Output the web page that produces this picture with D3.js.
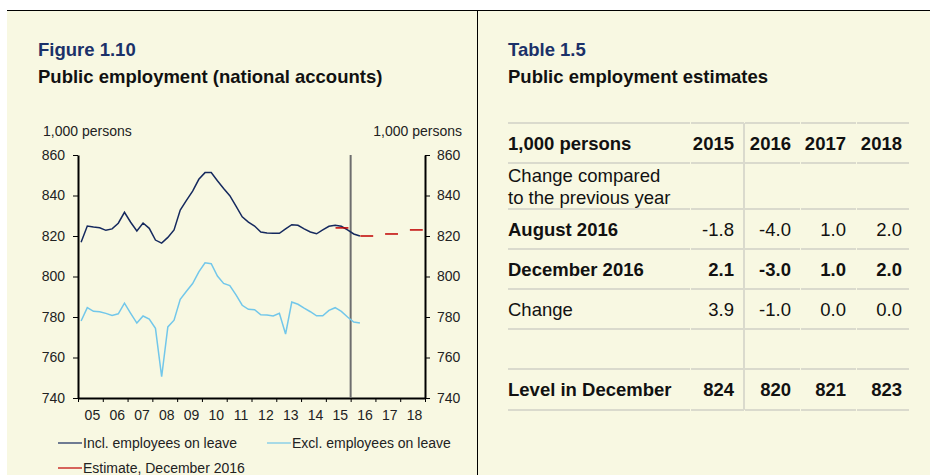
<!DOCTYPE html>
<html>
<head>
<meta charset="utf-8">
<script src="https://cdn.jsdelivr.net/npm/d3@7"></script>
<style>
body { margin: 0; background: #fff; }
svg { display: block; font-family: "Liberation Sans", Arial, sans-serif; }
</style>
</head>
<body>
<svg id="page" width="930" height="475"></svg>
<script>
// ---- data (quarterly, 2005Q1 - 2016Q2) ----
var firstYear = 2005;
var inclLeave = [816.9, 824.9, 824.4, 824.1, 822.8, 823.5, 826.3, 831.7, 826.8, 822.5,
                 826.4, 823.8, 818.0, 816.5, 819.3, 823.0, 832.8, 837.6, 842.2, 848.0,
                 851.3, 851.3, 847.3, 843.5, 839.9, 834.8, 829.5, 826.9, 824.9, 822.0,
                 821.5, 821.3, 821.3, 823.5, 825.6, 825.3, 823.5, 822.0, 821.1, 823.0,
                 824.8, 825.3, 824.8, 823.0, 821.0, 820.0];
var exclLeave = [778.0, 784.6, 782.8, 782.6, 781.8, 780.8, 781.6, 786.8, 781.8, 777.0,
                 780.5, 779.0, 774.4, 750.5, 775.1, 778.4, 788.7, 792.7, 796.5, 802.3,
                 806.8, 806.3, 800.2, 796.6, 795.5, 790.9, 785.8, 783.8, 783.6, 781.1,
                 781.0, 780.5, 781.8, 771.6, 787.4, 786.3, 784.4, 782.6, 780.6, 780.6,
                 783.3, 784.6, 782.8, 780.0, 777.5, 777.0];

// estimate (December 2016) = level in December, also used in the table
var tableYears = [2015, 2016, 2017, 2018];
var levelDecember = [824, 820, 821, 823];
var changeAug2016 = [-1.8, -4.0, 1.0, 2.0];
var changeDec2016 = [2.1, -3.0, 1.0, 2.0];
var changeDiff = [3.9, -1.0, 0.0, 0.0];

var yTicks = [740, 760, 780, 800, 820, 840, 860];
var xYears = d3.range(2005, 2019);
var splitYear = 2016;

var seriesInfo = [
    {name: 'Incl. employees on leave', values: inclLeave, color: '#15295e'},
    {name: 'Excl. employees on leave', values: exclLeave, color: '#72c7ea'}
];
var estimateInfo = {name: 'Estimate, December 2016', color: '#c00000'};

var cream = '#f8f8e2', navy = '#1b3169', rule = '#dadacd';

var svg = d3.select('#page');

// page frame
svg.append('rect').attr('x', 7).attr('y', 10).attr('width', 923).attr('height', 465).attr('fill', cream);
svg.append('line').attr('x1', 7).attr('x2', 930).attr('y1', 10.5).attr('y2', 10.5).attr('stroke', '#000');
svg.append('line').attr('x1', 477.5).attr('x2', 477.5).attr('y1', 10).attr('y2', 475).attr('stroke', '#000');

function heading(x, label, title) {
    svg.append('text').attr('x', x).attr('y', 56).attr('font-size', 18.5).attr('font-weight', 'bold').
        attr('fill', navy).text(label);
    svg.append('text').attr('x', x).attr('y', 83).attr('font-size', 18.5).attr('font-weight', 'bold').
        attr('fill', '#111').text(title);
}
heading(38, 'Figure 1.10', 'Public employment (national accounts)');
heading(508, 'Table 1.5', 'Public employment estimates');

// ---- chart ----
var plot = {x: 78, y: 155, w: 347, h: 243};

var x = d3.scaleLinear().domain([2005, 2019]).range([plot.x, plot.x + plot.w]);
var y = d3.scaleLinear().domain([740, 860]).range([plot.y + plot.h, plot.y]);

var chart = svg.append('g').attr('class', 'chart').attr('font-size', 14).attr('fill', '#222');

function styleAxis(g) {
    g.select('.domain').attr('stroke', '#000').attr('stroke-width', 2);
    g.selectAll('.tick line').attr('stroke', '#000');
    g.selectAll('.tick text').attr('font-size', 14).attr('fill', '#222').attr('font-family', null);
}

chart.append('g').attr('transform', 'translate(' + plot.x + ',0)').
    call(d3.axisLeft(y).tickValues(yTicks).tickSizeInner(5).tickSizeOuter(0).tickPadding(8)).
    call(styleAxis);
chart.append('g').attr('transform', 'translate(' + (plot.x + plot.w) + ',0)').
    call(d3.axisRight(y).tickValues(yTicks).tickSizeInner(5).tickSizeOuter(0).tickPadding(7)).
    call(styleAxis);
chart.append('g').attr('transform', 'translate(0,' + (plot.y + plot.h) + ')').
    call(d3.axisBottom(x).tickValues(d3.range(2005, 2020)).tickSizeInner(4).tickSizeOuter(0).tickFormat('')).
    call(styleAxis);

// year labels sit between the ticks
chart.selectAll('text.year').data(xYears).enter().append('text').attr('class', 'year').
    attr('x', function(d) { return x(d + 0.5) + 2; }).attr('y', 420).
    attr('text-anchor', 'middle').text(function(d) { return d3.format('02d')(d % 100); });

chart.append('text').attr('x', 43).attr('y', 136).text('1,000 persons');
chart.append('text').attr('x', 462).attr('y', 136).attr('text-anchor', 'end').text('1,000 persons');

// split between actual data and forecast period
chart.append('line').attr('x1', x(splitYear)).attr('x2', x(splitYear)).
    attr('y1', y(860)).attr('y2', y(740)).attr('stroke', '#6e6e6e').attr('stroke-width', 2);

var line = d3.line().
    x(function(d, i) { return x(firstYear + (i + 0.5) / 4); }).
    y(function(d) { return y(d); });

chart.selectAll('path.series').data(seriesInfo).enter().append('path').attr('class', 'series').
    attr('d', function(d) { return line(d.values); }).
    attr('fill', 'none').attr('stroke', function(d) { return d.color; }).attr('stroke-width', 1.5);

// estimate: one dash per year at the December level
chart.selectAll('line.estimate').data(tableYears).enter().append('line').attr('class', 'estimate').
    attr('x1', function(d) { return x(d + 0.39); }).attr('x2', function(d) { return x(d + 0.91); }).
    attr('y1', function(d, i) { return y(levelDecember[i]); }).
    attr('y2', function(d, i) { return y(levelDecember[i]); }).
    attr('stroke', estimateInfo.color).attr('stroke-width', 1.5);

// legend
var legendItems = [
    {info: seriesInfo[0], x: 58, y: 443},
    {info: seriesInfo[1], x: 267, y: 443},
    {info: estimateInfo, x: 58, y: 468}
];
var legend = chart.selectAll('g.legend').data(legendItems).enter().append('g').attr('class', 'legend').
    attr('transform', function(d) { return 'translate(' + d.x + ',' + d.y + ')'; });
legend.append('line').attr('x1', 0).attr('x2', 24).attr('stroke', function(d) { return d.info.color; }).
    attr('stroke-width', 1.2);
legend.append('text').attr('x', 25).attr('y', 5).text(function(d) { return d.info.name; });

// ---- table ----
var table = svg.append('g').attr('class', 'table').attr('font-size', 18.5).attr('fill', '#111');
var colRight = [734, 791, 846, 902];
var colBounds = [508, 690, 744, 800, 856, 909];
var ruleY = [123, 163, 209, 249, 289, 329, 369, 410];

var fmt1 = function(v) { return v.toFixed(1); };
var rows = [
    {label: ['1,000 persons'], values: tableYears, fmt: String, boldLabel: true, boldValues: true, top: ruleY[0]},
    {label: ['Change compared', 'to the previous year'], values: null, top: ruleY[1]},
    {label: ['August 2016'], values: changeAug2016, fmt: fmt1, boldLabel: true, boldValues: false, top: ruleY[2]},
    {label: ['December 2016'], values: changeDec2016, fmt: fmt1, boldLabel: true, boldValues: true, top: ruleY[3]},
    {label: ['Change'], values: changeDiff, fmt: fmt1, boldLabel: false, boldValues: false, top: ruleY[4]},
    {label: [], values: null, top: ruleY[5]},
    {label: ['Level in December'], values: levelDecember, fmt: String, boldLabel: true, boldValues: true, top: ruleY[6]}
];

// horizontal rules, broken slightly at column boundaries
ruleY.forEach(function(ry) {
    d3.pairs(colBounds).forEach(function(p) {
        table.append('line').attr('x1', p[0] + (p[0] > 508 ? 1 : 0)).attr('x2', p[1]).
            attr('y1', ry).attr('y2', ry).attr('stroke', rule).attr('stroke-width', 2);
    });
});
table.append('line').attr('x1', 744).attr('x2', 744).attr('y1', ruleY[0]).attr('y2', ruleY[7]).
    attr('stroke', rule).attr('stroke-width', 2);

rows.forEach(function(r) {
    if (r.label.length === 2) {
        table.append('text').attr('x', 508).attr('y', r.top + 19).text(r.label[0]);
        table.append('text').attr('x', 508).attr('y', r.top + 41).text(r.label[1]);
    } else if (r.label.length === 1) {
        table.append('text').attr('x', 508).attr('y', r.top + 27).
            attr('font-weight', r.boldLabel ? 'bold' : null).text(r.label[0]);
    }
    if (r.values) {
        r.values.forEach(function(v, i) {
            table.append('text').attr('x', colRight[i]).attr('y', r.top + 27).attr('text-anchor', 'end').
                attr('font-weight', r.boldValues ? 'bold' : null).text(r.fmt(v));
        });
    }
});
</script>
</body>
</html>
